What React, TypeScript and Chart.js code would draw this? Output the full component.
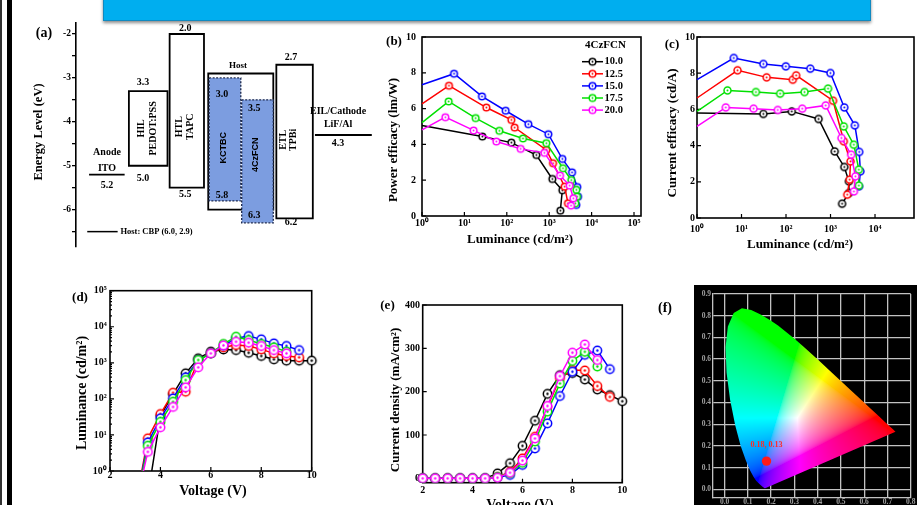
import React, { useEffect, useRef } from "react";
import { Chart, registerables } from "chart.js";

Chart.register(...registerables);

const SERIF = "'Liberation Serif', 'Times New Roman', serif";
const SANS = "'Liberation Sans', Arial, sans-serif";

// ---------------- shared series ----------------
const seriesNames = ["10.0", "12.5", "15.0", "17.5", "20.0"];
const seriesColors = ["#000000", "#ff0000", "#0000ff", "#00e000", "#ff00ff"];
const legendTitle = "4CzFCN";

// ---------------- (a) energy level diagram ----------------
const boxLayers = ["PEDOT:PSS", "TAPC", "Host", "TPBi"];
const boxLUMO = [-3.3, -2.0, -2.9, -2.7];
const boxHOMO = [-5.0, -5.5, -6.0, -6.2];
const boxFrom = [17.4, 30.8, 43.5, 65.9];
const boxTo = [30.1, 42.1, 64.9, 77.9];
const emitterLayers = ["KCTBC", "4CzFCN"];
const emitterLUMO = [-3.0, -3.5];
const emitterHOMO = [-5.8, -6.3];
const emitterFrom = [43.8, 54.5];
const emitterTo = [54.2, 64.9];
const electrodeLayers = ["ITO", "LiF/Al"];
const electrodeLevel = [-5.2, -4.3];
const electrodeFrom = [4.3, 78.6];
const electrodeTo = [16.0, 97.3];
const energyTicks = [-6.5, -6, -5.5, -5, -4.5, -4, -3.5, -3, -2.5, -2];

// ---------------- (b) power efficacy vs luminance ----------------
const b10L = [1, 26.5, 128, 497, 1186, 2040, 1830];
const b10Y = [5.06, 4.44, 4.1, 3.41, 2.07, 1.44, 0.3];
const b125L = [1, 4.33, 32.9, 128, 153, 857, 1230, 2318, 2770];
const b125Y = [6.27, 7.28, 6.06, 5.37, 4.94, 3.69, 2.95, 1.64, 0.71];
const b15L = [1, 5.7, 26, 94, 322, 955, 2040, 3460, 4590, 4790, 4370];
const b15Y = [7.33, 7.95, 6.68, 5.88, 5.13, 4.57, 3.19, 2.44, 1.62, 1.08, 0.62];
const b175L = [1, 4.26, 18.4, 66.7, 241, 856, 2115, 3320, 4370, 4540, 4140];
const b175Y = [5.22, 6.4, 5.47, 4.76, 4.33, 4.07, 2.67, 2.01, 1.46, 1.08, 0.71];
const b20L = [1, 3.55, 16.5, 56.6, 212, 768, 1800, 3040, 3710, 3270];
const b20Y = [4.81, 5.52, 4.78, 4.16, 3.75, 3.53, 2.26, 1.7, 0.99, 0.58];

// ---------------- (c) current efficacy vs luminance ----------------
const c10L = [1, 31, 135, 540, 1245, 2040, 2590, 2590, 1820];
const c10Y = [5.8, 5.75, 5.89, 5.47, 3.68, 2.82, 2.03, 1.38, 0.79];
const c125L = [1, 8.15, 36.8, 142, 169, 1140, 1990, 2820, 2690, 2370];
const c125Y = [6.63, 8.16, 7.77, 7.64, 7.88, 6.48, 4.24, 3.13, 2.12, 1.29];
const c15L = [1, 6.7, 31, 99, 351, 993, 2040, 3520, 4410, 4690, 4370];
const c15Y = [7.64, 8.84, 8.51, 8.38, 8.25, 8.01, 6.11, 5.12, 3.65, 2.58, 1.75];
const c175L = [1, 4.84, 21.1, 73.7, 261, 880, 1990, 3340, 4330, 4330];
const c175Y = [5.89, 7.05, 6.96, 6.87, 6.96, 7.15, 5.06, 4.05, 2.67, 1.79];
const c20L = [1, 4.44, 18.7, 65.3, 231, 780, 1760, 2910, 3630, 3350];
const c20Y = [5.06, 6.11, 6.04, 5.97, 6.04, 6.22, 4.42, 3.5, 2.3, 1.47];

const lumTicks = [1, 10, 100, 1000, 10000, 100000];
const effTicks = [0, 2, 4, 6, 8, 10];

// ---------------- (d) luminance vs voltage ----------------
const d10V = [3.5, 4, 4.5, 5, 5.5, 6, 6.5, 7, 7.5, 8, 8.5, 9, 9.5, 10];
const d10L = [0.2, 34, 135, 510, 1330, 2040, 2350, 2250, 1900, 1550, 1250, 1150, 1150, 1150];
const d125V = [3, 3.5, 4, 4.5, 5, 5.5, 6, 6.5, 7, 7.5, 8, 8.5, 9, 9.5];
const d125L = [0.1, 8.05, 38, 148, 158, 1200, 1830, 2690, 3120, 2930, 2360, 1830, 1550, 1420];
const d15V = [3, 3.5, 4, 4.5, 5, 5.5, 6, 6.5, 7, 7.5, 8, 8.5, 9, 9.5];
const d15L = [0.1, 6.2, 29, 103, 395, 1200, 1830, 3000, 4800, 5530, 4470, 3460, 2930, 2250];
const d175V = [3, 3.5, 4, 4.5, 5, 5.5, 6, 6.5, 7, 7.5, 8, 8.5, 9];
const d175L = [0.1, 5.0, 23, 83, 333, 1200, 1830, 3330, 5300, 4290, 3330, 2690, 2040];
const d20V = [3, 3.5, 4, 4.5, 5, 5.5, 6, 6.5, 7, 7.5, 8, 8.5, 9];
const d20L = [0.1, 3.4, 16.3, 60, 209, 750, 1830, 3050, 3850, 3620, 2930, 2250, 1830];
const voltTicks = [2, 4, 6, 8, 10];

// ---------------- (e) current density vs voltage ----------------
const e10V = [2, 2.5, 3, 3.5, 4, 4.5, 5, 5.5, 6, 6.5, 7, 7.5, 8, 8.5, 9, 9.5, 10];
const e10J = [0, 0, 0, 0, 0, 0, 11.5, 35, 75, 133, 195, 238, 243, 228, 205, 192, 178];
const e125V = [2, 2.5, 3, 3.5, 4, 4.5, 5, 5.5, 6, 6.5, 7, 7.5, 8, 8.5, 9, 9.5];
const e125J = [0, 0, 0, 0, 0, 0, 3, 15, 46, 96, 165, 231, 250, 249, 213, 188];
const e15V = [2, 2.5, 3, 3.5, 4, 4.5, 5, 5.5, 6, 6.5, 7, 7.5, 8, 8.5, 9, 9.5];
const e15J = [0, 0, 0, 0, 0, 0, 2, 8, 31, 69, 127, 190, 246, 285, 295, 252];
const e175V = [2, 2.5, 3, 3.5, 4, 4.5, 5, 5.5, 6, 6.5, 7, 7.5, 8, 8.5, 9];
const e175J = [0, 0, 0, 0, 0, 0, 3, 12, 36, 85, 154, 219, 271, 292, 258];
const e20V = [2, 2.5, 3, 3.5, 4, 4.5, 5, 5.5, 6, 6.5, 7, 7.5, 8, 8.5, 9];
const e20J = [0, 0, 0, 0, 0, 0, 1.5, 13, 41, 92, 167, 236, 290, 309, 273];
const jTicks = [0, 100, 200, 300, 400];

// ---------------- (f) CIE 1931 chromaticity ----------------
const cieLocusX = [0.1741, 0.1738, 0.1733, 0.1726, 0.1714, 0.1689, 0.1644, 0.1566, 0.144, 0.1355, 0.1241, 0.1096, 0.0913, 0.0687, 0.0454, 0.0235, 0.0082, 0.0039, 0.0139, 0.0389, 0.0743, 0.1142, 0.1547, 0.1929, 0.2296, 0.2658, 0.3016, 0.3373, 0.3731, 0.4087, 0.4441, 0.4788, 0.5125, 0.5448, 0.5752, 0.6029, 0.627, 0.6658, 0.6915, 0.7079, 0.719, 0.726, 0.73, 0.7334, 0.7347];
const cieLocusY = [0.005, 0.0049, 0.0048, 0.0048, 0.0051, 0.0069, 0.0109, 0.0177, 0.0297, 0.0399, 0.0578, 0.0868, 0.1327, 0.2007, 0.295, 0.4127, 0.5384, 0.6548, 0.7502, 0.812, 0.8338, 0.8262, 0.8059, 0.7816, 0.7543, 0.7243, 0.6923, 0.6589, 0.6245, 0.5896, 0.5547, 0.5202, 0.4866, 0.4544, 0.4242, 0.3965, 0.3725, 0.334, 0.3083, 0.292, 0.2809, 0.274, 0.27, 0.2666, 0.2653];
const cieX = [0.18];
const cieY = [0.13];
const cieTicksX = [0, 0.1, 0.2, 0.3, 0.4, 0.5, 0.6, 0.7, 0.8];
const cieTicksY = [0, 0.1, 0.2, 0.3, 0.4, 0.5, 0.6, 0.7, 0.8, 0.9];

// ---------------- helpers ----------------
const SUP = ["\u2070", "\u00b9", "\u00b2", "\u00b3", "\u2074", "\u2075"];
const pow10Label = (v: number) => "10" + SUP[Math.round(Math.log10(v))];

function makeMarker(color: string, r: number): HTMLCanvasElement {
  const s = Math.ceil(r * 2 + 4);
  const c = document.createElement("canvas");
  c.width = s;
  c.height = s;
  const g = c.getContext("2d")!;
  g.beginPath();
  g.arc(s / 2, s / 2, r, 0, Math.PI * 2);
  g.fillStyle = "#ffffff";
  g.fill();
  g.lineWidth = 1.5;
  g.strokeStyle = color;
  g.stroke();
  g.beginPath();
  g.arc(s / 2, s / 2, Math.max(0.9, r * 0.28), 0, Math.PI * 2);
  g.fillStyle = color;
  g.fill();
  return c;
}

function curve(i: number, xs: number[], ys: number[], r: number, hideFirst: boolean) {
  return {
    label: seriesNames[i],
    data: xs.map((x, k) => ({ x, y: ys[k] })),
    showLine: true,
    borderColor: seriesColors[i],
    backgroundColor: seriesColors[i],
    borderWidth: 1.5,
    pointStyle: makeMarker(seriesColors[i], r),
    pointRadius: (ctx: any) => (hideFirst && ctx.dataIndex === 0 ? 0 : r),
    order: 4 - i,
    clip: { left: 8, top: 8, right: 8, bottom: 0 },
  };
}

type TextItem = {
  t: string; x: number; y: number; size?: number; rot?: boolean; family?: string;
  color?: string; align?: CanvasTextAlign; data?: boolean;
};

function textPlugin(items: TextItem[], origin: number[]) {
  return {
    id: "texts",
    afterDraw(chart: any) {
      const ctx = chart.ctx;
      for (const it of items) {
        let px: number, py: number;
        if (it.data) {
          px = chart.scales.x.getPixelForValue(it.x);
          py = chart.scales.y.getPixelForValue(it.y);
        } else {
          px = it.x - origin[0];
          py = it.y - origin[1];
        }
        ctx.save();
        ctx.translate(px, py);
        if (it.rot) ctx.rotate(-Math.PI / 2);
        ctx.font = `bold ${it.size || 10}px ${it.family || SERIF}`;
        ctx.fillStyle = it.color || "#000";
        ctx.textAlign = it.align || "center";
        ctx.textBaseline = "middle";
        ctx.fillText(it.t, 0, 0);
        ctx.restore();
      }
    },
  };
}

function framePlugin(minorLogY: boolean) {
  return {
    id: "frame",
    beforeDatasetsDraw(chart: any) {
      const { ctx, chartArea: a } = chart;
      const xs = chart.scales.x;
      const ys = chart.scales.y;
      ctx.save();
      ctx.strokeStyle = "#000";
      ctx.lineWidth = 1.2;
      ctx.beginPath();
      for (const t of xs.ticks) {
        const p = xs.getPixelForValue(t.value);
        ctx.moveTo(p, a.bottom);
        ctx.lineTo(p, a.bottom - 4);
      }
      for (const t of ys.ticks) {
        const p = ys.getPixelForValue(t.value);
        ctx.moveTo(a.left, p);
        ctx.lineTo(a.left + 4, p);
      }
      if (minorLogY) {
        for (let k = 0; k < 5; k++) {
          for (let m = 2; m < 10; m++) {
            const p = ys.getPixelForValue(m * Math.pow(10, k));
            ctx.moveTo(a.left, p);
            ctx.lineTo(a.left + 2, p);
          }
        }
      }
      ctx.stroke();
      ctx.lineWidth = 1.6;
      ctx.strokeRect(a.left, a.top, a.right - a.left, a.bottom - a.top);
      ctx.restore();
    },
  };
}

function legendPluginB(origin: number[]) {
  return {
    id: "legendB",
    afterDatasetsDraw(chart: any) {
      const ctx = chart.ctx;
      const [ox, oy] = origin;
      ctx.save();
      ctx.font = `bold 11px ${SERIF}`;
      ctx.textBaseline = "middle";
      ctx.fillStyle = "#000";
      ctx.textAlign = "center";
      ctx.fillText(legendTitle, 605.5 - ox, 45 - oy);
      ctx.font = `bold 10.5px ${SERIF}`;
      ctx.textAlign = "left";
      chart.data.datasets.forEach((ds: any, i: number) => {
        const y = 61.7 + i * 12.1 - oy;
        ctx.strokeStyle = ds.borderColor;
        ctx.lineWidth = 1.5;
        ctx.beginPath();
        ctx.moveTo(582 - ox, y);
        ctx.lineTo(603 - ox, y);
        ctx.stroke();
        const img = ds.pointStyle as HTMLCanvasElement;
        ctx.drawImage(img, 592.5 - ox - img.width / 2, y - img.height / 2);
        ctx.fillStyle = "#000";
        ctx.fillText(ds.label, 604.5 - ox, y);
      });
      ctx.restore();
    },
  };
}

function chromaRGB(x: number, y: number): number[] {
  const yy = Math.max(y, 0.002);
  const X = x / yy;
  const Y = 1;
  const Z = (1 - x - yy) / yy;
  let r = 3.2406 * X - 1.5372 * Y - 0.4986 * Z;
  let g = -0.9689 * X + 1.8758 * Y + 0.0415 * Z;
  let b = 0.0557 * X - 0.204 * Y + 1.057 * Z;
  r = Math.max(r, 0);
  g = Math.max(g, 0);
  b = Math.max(b, 0);
  const m = Math.max(r, g, b);
  if (m <= 0) return [0, 0, 0];
  const gam = (v: number) => (v <= 0.0031308 ? 12.92 * v : 1.055 * Math.pow(v, 1 / 2.4) - 0.055);
  return [gam(r / m) * 255, gam(g / m) * 255, gam(b / m) * 255];
}

function cieFillPlugin() {
  return {
    id: "cieFill",
    beforeDatasetsDraw(chart: any) {
      const { ctx, chartArea: a, scales } = chart;
      const pts = chart.getDatasetMeta(0).data;
      const w = Math.ceil(a.right - a.left);
      const h = Math.ceil(a.bottom - a.top);
      const off = document.createElement("canvas");
      off.width = w;
      off.height = h;
      const g = off.getContext("2d")!;
      const img = g.createImageData(w, h);
      for (let j = 0; j < h; j++) {
        const cy = scales.y.getValueForPixel(a.top + j + 0.5);
        for (let i = 0; i < w; i++) {
          const cx = scales.x.getValueForPixel(a.left + i + 0.5);
          const c = chromaRGB(cx, cy);
          const k = (j * w + i) * 4;
          img.data[k] = c[0];
          img.data[k + 1] = c[1];
          img.data[k + 2] = c[2];
          img.data[k + 3] = 255;
        }
      }
      g.putImageData(img, 0, 0);
      ctx.save();
      ctx.beginPath();
      pts.forEach((p: any, i: number) => (i ? ctx.lineTo(p.x, p.y) : ctx.moveTo(p.x, p.y)));
      ctx.closePath();
      ctx.clip();
      ctx.drawImage(off, a.left, a.top);
      ctx.restore();
    },
  };
}

const tickFont = { family: SERIF, size: 10, weight: "bold" as const };

function curveConfig(o: any) {
  return {
    type: "scatter",
    data: { datasets: o.datasets },
    options: {
      responsive: false,
      animation: false,
      events: [],
      devicePixelRatio: 1,
      layout: { padding: o.padding, autoPadding: false },
      plugins: { legend: { display: false }, tooltip: { enabled: false } },
      scales: {
        x: {
          type: o.x.type,
          min: o.x.min,
          max: o.x.max,
          grid: { display: false, drawTicks: false, tickLength: 0 },
          border: { display: false },
          afterBuildTicks: (s: any) => {
            s.ticks = o.x.ticks.filter((v: number) => v >= o.x.min && v <= o.x.max).map((v: number) => ({ value: v }));
          },
          afterFit: (s: any) => {
            s.height = o.x.size;
          },
          ticks: {
            font: tickFont, color: "#000", padding: o.x.pad, autoSkip: false,
            maxRotation: 0, minRotation: 0, callback: o.x.label,
          },
        },
        y: {
          type: o.y.type,
          min: o.y.min,
          max: o.y.max,
          grid: { display: false, drawTicks: false, tickLength: 0 },
          border: { display: false },
          afterBuildTicks: (s: any) => {
            s.ticks = o.y.ticks.map((v: number) => ({ value: v }));
          },
          afterFit: (s: any) => {
            s.width = o.y.size;
          },
          ticks: { font: tickFont, color: "#000", padding: o.y.pad, autoSkip: false, callback: o.y.label },
        },
      },
    },
    plugins: [framePlugin(!!o.minorLogY), textPlugin(o.texts, o.origin), ...(o.extra || [])],
  };
}

// ---------------- panel configs ----------------
function configA() {
  const origin = [14, 16];
  const poly = (s: number, e: number, t: number, b: number) => [
    { x: s, y: t }, { x: e, y: t }, { x: e, y: b }, { x: s, y: b }, { x: s, y: t },
  ];
  const datasets: any[] = [];
  boxLayers.forEach((n, i) =>
    datasets.push({
      label: n, data: poly(boxFrom[i], boxTo[i], boxLUMO[i], boxHOMO[i]), showLine: true,
      borderColor: "#000", borderWidth: 1.8, borderCapStyle: "square", pointRadius: 0, order: 6,
    })
  );
  emitterLayers.forEach((n, i) =>
    datasets.push({
      label: n + " fill", data: [{ x: emitterFrom[i], y: emitterLUMO[i] }, { x: emitterTo[i], y: emitterLUMO[i] }],
      showLine: true, borderWidth: 1, borderColor: "rgba(0,0,0,0)", backgroundColor: "#7c9de0",
      fill: { value: emitterHOMO[i] }, pointRadius: 0, order: 4,
    })
  );
  emitterLayers.forEach((n, i) =>
    datasets.push({
      label: n, data: poly(emitterFrom[i], emitterTo[i], emitterLUMO[i], emitterHOMO[i]), showLine: true,
      borderColor: "#1e2b50", borderWidth: 1.4, borderDash: [2, 1.5], pointRadius: 0, order: 3,
    })
  );
  electrodeLayers.forEach((n, i) =>
    datasets.push({
      label: n, data: [{ x: electrodeFrom[i], y: electrodeLevel[i] }, { x: electrodeTo[i], y: electrodeLevel[i] }],
      showLine: true, borderColor: "#000", borderWidth: 1.8, pointRadius: 0, order: 2,
    })
  );
  datasets.push({
    label: "Host: CBP", data: [{ x: 3.7, y: -6.5 }, { x: 13.7, y: -6.5 }],
    showLine: true, borderColor: "#000", borderWidth: 1.5, pointRadius: 0, order: 1,
  });
  const lv = (v: number) => Math.abs(v).toFixed(1);
  const texts: TextItem[] = [
    { t: "(a)", x: 44, y: 33, size: 14 },
    { t: "Energy Level (eV)", x: 39, y: 132, size: 12.5, rot: true },
    { t: "Anode", x: 10.2, y: -4.7, data: true },
    { t: electrodeLayers[0], x: 10.2, y: -5.06, data: true },
    { t: lv(electrodeLevel[0]), x: 10.2, y: -5.44, data: true },
    { t: lv(boxLUMO[0]), x: 22.0, y: -3.11, data: true },
    { t: lv(boxHOMO[0]), x: 22.0, y: -5.3, data: true },
    { t: "HIL", x: 21.6, y: -4.15, rot: true, data: true },
    { t: boxLayers[0], x: 25.6, y: -4.15, rot: true, data: true },
    { t: lv(boxLUMO[1]), x: 35.9, y: -1.88, data: true },
    { t: "HTL", x: 34.0, y: -4.11, rot: true, data: true },
    { t: boxLayers[1], x: 37.7, y: -4.11, rot: true, data: true },
    { t: lv(boxHOMO[1]), x: 35.9, y: -5.66, data: true },
    { t: boxLayers[2], x: 53.3, y: -2.73, size: 9, data: true },
    { t: lv(emitterLUMO[0]), x: 48.0, y: -3.38, data: true },
    { t: lv(emitterHOMO[0]), x: 48.0, y: -5.67, data: true },
    { t: emitterLayers[0], x: 48.6, y: -4.59, rot: true, family: SANS, size: 9, data: true },
    { t: lv(emitterLUMO[1]), x: 58.6, y: -3.7, data: true },
    { t: lv(emitterHOMO[1]), x: 58.6, y: -6.14, data: true },
    { t: emitterLayers[1], x: 59.0, y: -4.75, rot: true, family: SANS, size: 9, data: true },
    { t: lv(boxLUMO[3]), x: 70.7, y: -2.53, data: true },
    { t: lv(boxHOMO[3]), x: 70.7, y: -6.3, data: true },
    { t: "ETL", x: 68.2, y: -4.41, rot: true, data: true },
    { t: boxLayers[3], x: 71.6, y: -4.41, rot: true, data: true },
    { t: "EIL/Cathode", x: 86.2, y: -3.76, data: true },
    { t: electrodeLayers[1], x: 86.2, y: -4.05, data: true },
    { t: lv(electrodeLevel[1]), x: 86.2, y: -4.5, data: true },
    { t: "Host: CBP (6.0, 2.9)", x: 14.6, y: -6.5, size: 8.5, align: "left", data: true },
  ];
  return {
    type: "scatter",
    data: { datasets },
    options: {
      responsive: false, animation: false, events: [], devicePixelRatio: 1,
      layout: { padding: { left: 32, top: 7, right: 6, bottom: 11 }, autoPadding: false },
      plugins: { legend: { display: false }, tooltip: { enabled: false } },
      scales: {
        x: { type: "linear", display: false, min: 0, max: 100 },
        y: {
          type: "linear", min: -6.85, max: -1.75,
          afterBuildTicks: (s: any) => { s.ticks = energyTicks.map((v) => ({ value: v })); },
          afterFit: (s: any) => { s.width = 30; },
          grid: { display: true, drawOnChartArea: false, drawTicks: true, tickLength: 4, color: "#000", lineWidth: 1.3 },
          border: { display: true, color: "#000", width: 1.6 },
          ticks: {
            padding: 1, color: "#000", font: { family: SERIF, size: 9.5, weight: "bold" }, autoSkip: false,
            callback: (v: number) => (Number.isInteger(v) ? String(v) : ""),
          },
        },
      },
    },
    plugins: [textPlugin(texts, origin)],
  };
}

function configB() {
  const origin = [378, 22];
  return curveConfig({
    origin,
    datasets: [
      curve(0, b10L, b10Y, 3.3, true), curve(1, b125L, b125Y, 3.3, true), curve(2, b15L, b15Y, 3.3, true),
      curve(3, b175L, b175Y, 3.3, true), curve(4, b20L, b20Y, 3.3, true),
    ],
    x: { type: "logarithmic", min: 1, max: Math.pow(10, 5.165), ticks: lumTicks, label: pow10Label, pad: 1.5, size: 20 },
    y: { type: "linear", min: 0, max: 10, ticks: effTicks, label: (v: number) => String(v), pad: 6, size: 40 },
    padding: { left: 4, top: 15, right: 5, bottom: 14 },
    texts: [
      { t: "(b)", x: 394, y: 42, size: 13 },
      { t: "Power efficacy (lm/W)", x: 394, y: 140, size: 13, rot: true },
      { t: "Luminance (cd/m\u00b2)", x: 520, y: 239.5, size: 13 },
    ],
    extra: [legendPluginB(origin)],
  });
}

function configC() {
  return curveConfig({
    origin: [650, 22],
    datasets: [
      curve(0, c10L, c10Y, 3.5, true), curve(1, c125L, c125Y, 3.5, true), curve(2, c15L, c15Y, 3.5, true),
      curve(3, c175L, c175Y, 3.5, true), curve(4, c20L, c20Y, 3.5, true),
    ],
    x: { type: "logarithmic", min: 1, max: Math.pow(10, 4.876), ticks: lumTicks, label: pow10Label, pad: 5.5, size: 20 },
    y: { type: "linear", min: 0, max: 10, ticks: effTicks, label: (v: number) => String(v), pad: 2, size: 43 },
    padding: { left: 4, top: 15, right: 3, bottom: 20 },
    texts: [
      { t: "(c)", x: 672, y: 45, size: 13 },
      { t: "Current efficacy (cd/A)", x: 673, y: 133, size: 13, rot: true },
      { t: "Luminance (cd/m\u00b2)", x: 800, y: 245, size: 13 },
    ],
  });
}

function configD() {
  return curveConfig({
    origin: [60, 278],
    minorLogY: true,
    datasets: [
      curve(0, d10V, d10L, 4.3, false), curve(1, d125V, d125L, 4.3, false), curve(2, d15V, d15L, 4.3, false),
      curve(3, d175V, d175L, 4.3, false), curve(4, d20V, d20L, 4.3, false),
    ],
    x: { type: "linear", min: 2, max: 10, ticks: voltTicks, label: (v: number) => String(v), pad: -1.5, size: 20 },
    y: { type: "logarithmic", min: 1, max: 100000, ticks: lumTicks, label: pow10Label, pad: 3.3, size: 46 },
    padding: { left: 4, top: 12.7, right: 10.3, bottom: 14 },
    texts: [
      { t: "(d)", x: 80, y: 298, size: 13 },
      { t: "Luminance (cd/m\u00b2)", x: 82.5, y: 393, size: 14, rot: true },
      { t: "Voltage (V)", x: 213, y: 491.7, size: 14 },
    ],
  });
}

function configE() {
  return curveConfig({
    origin: [380, 293],
    datasets: [
      curve(0, e10V, e10J, 4.2, false), curve(1, e125V, e125J, 4.2, false), curve(2, e15V, e15J, 4.2, false),
      curve(3, e175V, e175J, 4.2, false), curve(4, e20V, e20J, 4.2, false),
    ],
    x: { type: "linear", min: 2, max: 10, ticks: voltTicks, label: (v: number) => String(v), pad: 1.3, size: 15 },
    y: { type: "linear", min: -10, max: 400, ticks: jTicks, label: (v: number) => String(v), pad: 2.7, size: 38.7 },
    padding: { left: 4, top: 12, right: 9.7, bottom: 7.3 },
    texts: [
      { t: "(e)", x: 387.5, y: 306, size: 13 },
      { t: "Current density (mA/cm\u00b2)", x: 396, y: 400, size: 13, rot: true },
      { t: "Voltage (V)", x: 520, y: 505, size: 14 },
    ],
  });
}

function configF() {
  const origin = [650, 280];
  const locus = cieLocusX.map((x, i) => ({ x, y: cieLocusY[i] }));
  locus.push({ x: cieLocusX[0], y: cieLocusY[0] });
  const bg = {
    id: "bgF",
    beforeDraw(chart: any) {
      const ctx = chart.ctx;
      ctx.save();
      ctx.fillStyle = "#000";
      ctx.fillRect(694 - origin[0], 285 - origin[1], 917 - 694, 505 - 285);
      ctx.restore();
    },
  };
  const gridCol = "#c2c2c2";
  const small = { family: SERIF, size: 7.5, weight: "bold" as const };
  return {
    type: "scatter",
    data: {
      datasets: [
        { label: "locus", data: locus, showLine: true, borderColor: "rgba(0,0,0,0)", borderWidth: 1, pointRadius: 0, order: 1 },
        {
          label: "CIE", data: cieX.map((x, i) => ({ x, y: cieY[i] })), showLine: false,
          pointRadius: 4.7, pointBackgroundColor: "#ff1a1a", pointBorderColor: "#ff1a1a", pointBorderWidth: 0, order: 0,
        },
      ],
    },
    options: {
      responsive: false, animation: false, events: [], devicePixelRatio: 1,
      layout: { padding: { left: 4, top: 14, right: 6.3, bottom: 0 }, autoPadding: false },
      plugins: { legend: { display: false }, tooltip: { enabled: false } },
      scales: {
        x: {
          type: "linear", min: -0.05, max: 0.8,
          afterBuildTicks: (s: any) => { s.ticks = cieTicksX.map((v) => ({ value: v })); },
          afterFit: (s: any) => { s.height = 7; },
          grid: { display: true, color: gridCol, lineWidth: 1.3, drawTicks: false },
          border: { display: true, color: gridCol, width: 1.3 },
          ticks: { color: "#a0a0a0", padding: 0, font: small, autoSkip: false, maxRotation: 0, callback: (v: number) => v.toFixed(1) },
        },
        y: {
          type: "linear", min: -0.04, max: 0.9,
          afterBuildTicks: (s: any) => { s.ticks = cieTicksY.map((v) => ({ value: v })); },
          afterFit: (s: any) => { s.width = 59; },
          grid: { display: true, color: gridCol, lineWidth: 1.3, drawTicks: false },
          border: { display: true, color: gridCol, width: 1.3 },
          ticks: { color: "#a0a0a0", padding: 2, font: small, autoSkip: false, callback: (v: number) => v.toFixed(1) },
        },
      },
    },
    plugins: [
      bg,
      cieFillPlugin(),
      textPlugin(
        [
          { t: "(f)", x: 665, y: 308, size: 14 },
          { t: `${cieX[0].toFixed(2)}, ${cieY[0].toFixed(2)}`, x: cieX[0], y: 0.203, size: 8, color: "#ff2a2a", data: true },
        ],
        origin
      ),
    ],
  };
}

function ChartCanvas({ left, top, width, height, build }: any) {
  const ref = useRef<HTMLCanvasElement>(null);
  useEffect(() => {
    const chart = new Chart(ref.current as HTMLCanvasElement, build() as any);
    return () => chart.destroy();
  }, []);
  return (
    <canvas
      ref={ref}
      width={width}
      height={height}
      style={{ position: "absolute", left, top, width, height, display: "block" }}
    />
  );
}

export default function App() {
  return (
    <div
      style={{
        position: "fixed", left: 0, top: 0, width: 917, height: 505,
        overflow: "hidden", background: "#ffffff",
      }}
    >
      <div style={{ position: "absolute", left: 0, top: 0, width: 1.5, height: 505, background: "#333" }} />
      <div style={{ position: "absolute", left: 7, top: 0, width: 5, height: 505, background: "#000" }} />
      <div
        style={{
          position: "absolute", left: 103, top: -4, width: 766, height: 23,
          background: "#00aeef", border: "1px solid #1089c0",
          boxShadow: "0 2px 3px rgba(0,0,0,0.45)",
        }}
      />
      <ChartCanvas left={14} top={16} width={372} height={242} build={configA} />
      <ChartCanvas left={378} top={22} width={268} height={228} build={configB} />
      <ChartCanvas left={650} top={22} width={267} height={236} build={configC} />
      <ChartCanvas left={60} top={278} width={262} height={227} build={configD} />
      <ChartCanvas left={380} top={293} width={252} height={212} build={configE} />
      <ChartCanvas left={650} top={280} width={267} height={225} build={configF} />
    </div>
  );
}
